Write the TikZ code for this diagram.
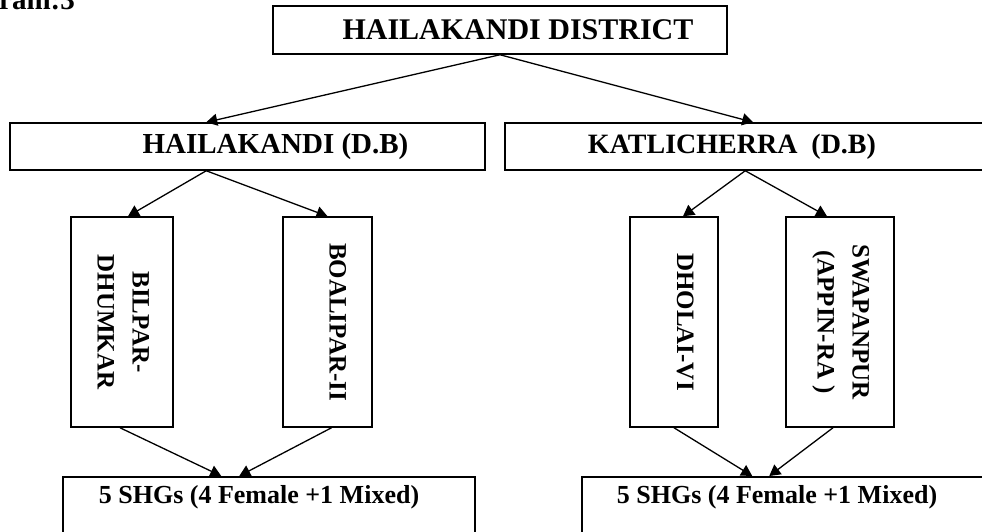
\documentclass[tikz,border=0pt]{standalone}
\usepackage{fontspec}
\setmainfont{Liberation Serif}
\usepackage{graphicx}
\usetikzlibrary{arrows.meta}
\newcommand{\vlabel}[1]{\rotatebox{-90}{\begin{tabular}{@{}c@{}}#1\end{tabular}}}
\begin{document}
\begin{tikzpicture}[x=1pt, y=-1pt,
  box/.style={draw, line width=1.5pt, inner sep=0pt},
  lbl/.style={inner sep=0pt, font=\bfseries\fontsize{25}{35}\selectfont},
  arr/.style={-{Triangle[length=11pt,width=12pt]}, line width=1.3pt}]
\useasboundingbox (0,0) rectangle (982,531);
\clip (0,0) rectangle (982,531);
\node[anchor=base west, inner sep=0pt, font=\bfseries\fontsize{29}{33}\selectfont] (title) at (-1,9) {ram:3};
\node[box, minimum width=454, minimum height=48, label={[lbl, font=\bfseries\fontsize{30}{33}\selectfont, xshift=18pt]center:HAILAKANDI DISTRICT}] (dist) at (500,30) {};
\node[box, minimum width=475, minimum height=47, label={[lbl, font=\bfseries\fontsize{29}{33}\selectfont, xshift=28pt]center:HAILAKANDI (D.B)}] (hdb) at (247.5,146.5) {};
\node[box, minimum width=490, minimum height=47, label={[lbl, font=\bfseries\fontsize{28}{33}\selectfont, xshift=-18pt]center:KATLICHERRA~~(D.B)}] (kdb) at (750,146.5) {};
\node[box, minimum width=102, minimum height=210, label={[lbl]center:\vlabel{BILPAR-\\DHUMKAR}}] (bil) at (122,322) {};
\node[box, minimum width=89, minimum height=210, label={[lbl, xshift=9pt]center:\vlabel{BOALIPAR-II}}] (boa) at (327.5,322) {};
\node[box, minimum width=88, minimum height=210, label={[lbl, xshift=10pt]center:\vlabel{DHOLAI-VI}}] (dho) at (674,322) {};
\node[box, minimum width=108, minimum height=210, label={[lbl, xshift=2pt]center:\vlabel{SWAPANPUR\\(APPIN-RA )}}] (swa) at (840,322) {};
\node[box, anchor=north, minimum width=412, minimum height=80, label={[lbl, anchor=north, font=\bfseries\fontsize{26}{33}\selectfont, xshift=-10pt, yshift=-9pt]north:5 SHGs (4 Female +1 Mixed)}] (shg1) at (269,476) {};
\node[box, anchor=north, minimum width=408, minimum height=80, label={[lbl, anchor=north, font=\bfseries\fontsize{26}{33}\selectfont, xshift=-9pt, yshift=-9pt]north:5 SHGs (4 Female +1 Mixed)}] (shg2) at (786,476) {};
\draw[arr] (dist.south) -- ([xshift=197pt]hdb.north west);
\draw[arr] (dist.south) -- ([xshift=249pt]kdb.north west);
\draw[arr] ([xshift=197pt]hdb.south west) -- ([xshift=6pt]bil.north);
\draw[arr] ([xshift=197pt]hdb.south west) -- (boa.north);
\draw[arr] ([xshift=241pt]kdb.south west) -- ([xshift=9pt]dho.north);
\draw[arr] ([xshift=241pt]kdb.south west) -- ([xshift=-13pt]swa.north);
\draw[arr] ([xshift=-2pt]bil.south) -- ([xshift=159pt]shg1.north west);
\draw[arr] ([xshift=4pt]boa.south) -- ([xshift=177pt]shg1.north west);
\draw[arr] (dho.south) -- ([xshift=171pt]shg2.north west);
\draw[arr] ([xshift=-7pt]swa.south) -- ([xshift=188pt]shg2.north west);
\end{tikzpicture}
\end{document}
